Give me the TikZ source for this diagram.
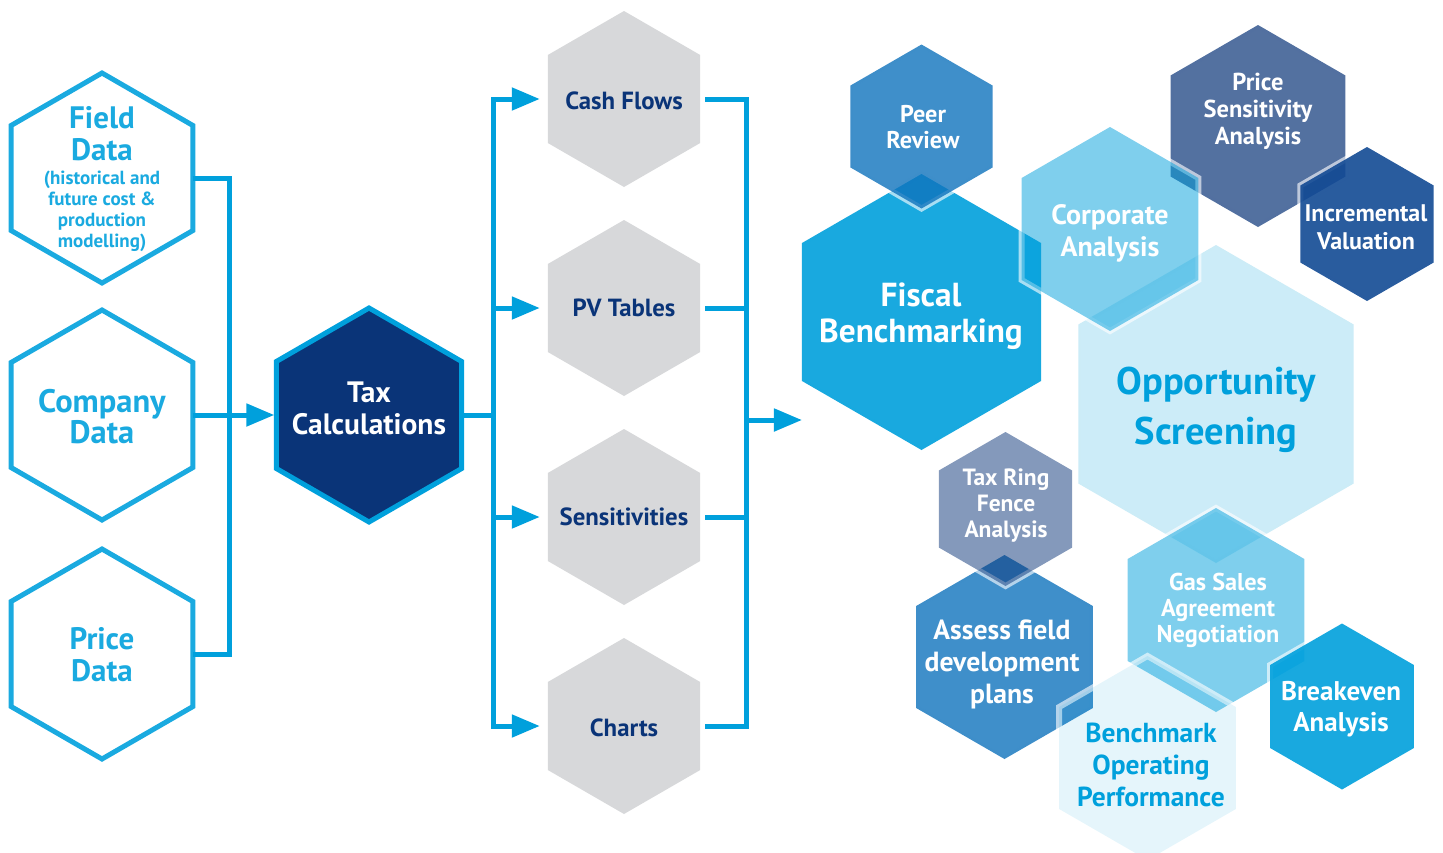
\documentclass[tikz,border=0pt]{standalone}
\usepackage{fontspec}
\setmainfont{PT Sans}
\usetikzlibrary{shapes.geometric,arrows.meta}

\definecolor{navy}{HTML}{0A3478}
\definecolor{cyanbase}{HTML}{00A0DC}
\definecolor{outl}{HTML}{1AAAE0}
\definecolor{hexgrey}{HTML}{D7D8DA}
\definecolor{midblue}{HTML}{0F73BD}
\definecolor{deepblue}{HTML}{124A94}

\newcommand{\fsz}[2]{\fontsize{#1}{#2}\selectfont}

\tikzset{
  hexa/.style={regular polygon, regular polygon sides=6, shape border rotate=30,
    inner sep=0pt, outer sep=0pt, minimum size=#1},
  inhex/.style={hexa=#1, draw=outl, line width=5pt, fill=white},
  graycell/.style={hexa=#1, fill=hexgrey},
  cell/.style={hexa=#1, preaction={draw=white, draw opacity=.62, line width=6pt}},
  txt/.style={align=center, font=\bfseries, text=white, inner sep=0pt},
  flow/.style={draw=cyanbase, line width=5pt},
  feed/.style={-{Triangle[length=28pt,width=22pt]}},
}

\begin{document}
\begin{tikzpicture}[x=1pt,y=-1pt]
\useasboundingbox (0,0) rectangle (1443,852);

% data inputs
\node[inhex=210] (fd) at (102,178) {};
\node[txt, text=outl, font=\bfseries\fsz{31}{32}] (fdt) at (102,134) {Field\\Data};
\node[txt, text=outl, font=\bfseries\fsz{19}{21}] (fds) at (102,211) {(historical and\\future cost \&\\production\\modelling)};
\node[inhex=210] (cd) at (102,415) {};
\node[txt, text=outl, font=\bfseries\fsz{32.5}{31}] (cdt) at (102,417) {Company\\Data};
\node[inhex=210] (pd) at (102,654) {};
\node[txt, text=outl, font=\bfseries\fsz{31}{32}] (pdt) at (102,655) {Price\\Data};

% engine
\node[hexa=214, draw=cyanbase, line width=5pt, fill=navy] (tax) at (369,415) {};
\node[txt, font=\bfseries\fsz{29.5}{32}] (taxt) at (369,408) {Tax\\Calculations};

% outputs
\node[graycell=176] (cf) at (624,99) {};
\node[txt, text=navy, font=\bfseries\fsz{24.8}{28}] (cft) at (624,101) {Cash Flows};
\node[graycell=176] (pv) at (624,308) {};
\node[txt, text=navy, font=\bfseries\fsz{24.8}{28}] (pvt) at (624,308) {PV Tables};
\node[graycell=176] (se) at (624,517) {};
\node[txt, text=navy, font=\bfseries\fsz{24.8}{28}] (set) at (624,517) {Sensitivities};
\node[graycell=176] (ch) at (624,726) {};
\node[txt, text=navy, font=\bfseries\fsz{24.8}{28}] (cht) at (624,728) {Charts};

% connectors
\draw[flow] (fd.east) -- ++(37,0) |- (pd.east);
\draw[flow, feed, shorten >=2pt] (cd.east) -- (tax.west);
\draw[flow] (tax.east) -- ++(32,0) coordinate (split);
\foreach \g in {cf,pv,se,ch}
  \draw[flow, feed, shorten >=8pt] (split) |- (\g.west);
\coordinate (merge) at (746,420);
\foreach \g in {cf,pv,se,ch}
  \draw[flow] ([xshift=5pt]\g.east) -| (merge);

% uses cluster
\node[cell=276, fill=cyanbase, fill opacity=.9] (fb) at (921.5,312) {};
\node[cell=202, fill=navy, fill opacity=.7] (ps) at (1258,126) {};
\node[cell=318, fill=cyanbase, fill opacity=.2] (os) at (1216,404) {};
\node[cell=204, fill=midblue, fill opacity=.8] (af) at (1004.5,657) {};
\node[cell=204, fill=cyanbase, fill opacity=.5] (gs) at (1216,610) {};
\node[cell=164, fill=midblue, fill opacity=.8] (pr) at (921.5,126.5) {};
\node[cell=204, fill=cyanbase, fill opacity=.5] (ca) at (1110,229) {};
\node[cell=154, fill=deepblue, fill opacity=.9] (iv) at (1367,224) {};
\node[cell=154, fill=navy, fill opacity=.5] (tr) at (1005.5,509) {};
\node[cell=204, fill=cyanbase, fill opacity=.1] (bo) at (1147.5,758) {};
\node[cell=166, fill=cyanbase, fill opacity=.9] (be) at (1342,706.5) {};

\draw[flow, feed] (merge) -- (merge -| fb.west);

\node[txt, font=\bfseries\fsz{33.3}{36}] (fbt) at (921,316) {Fiscal\\Benchmarking};
\node[txt, font=\bfseries\fsz{24.5}{27}] (pst) at (1258,111) {Price\\Sensitivity\\Analysis};
\node[txt, text=cyanbase, font=\bfseries\fsz{38.5}{50}] (ost) at (1216,410) {Opportunity\\Screening};
\node[txt, font=\bfseries\fsz{27.7}{32}] (aft) at (1002,664) {Assess field\\development\\plans};
\node[txt, font=\bfseries\fsz{24.3}{26}] (gst) at (1218,610) {Gas Sales\\Agreement\\Negotiation};
\node[txt, font=\bfseries\fsz{24.2}{26}] (prt) at (923,127) {Peer\\Review};
\node[txt, font=\bfseries\fsz{28}{32}] (cat) at (1110,233) {Corporate\\Analysis};
\node[txt, font=\bfseries\fsz{24}{28}] (ivt) at (1366,227) {Incremental\\Valuation};
\node[txt, font=\bfseries\fsz{23.5}{26}] (trt) at (1006,506) {Tax Ring\\Fence\\Analysis};
\node[txt, text=cyanbase, font=\bfseries\fsz{27.5}{32}] (bot) at (1151,765) {Benchmark\\Operating\\Performance};
\node[txt, font=\bfseries\fsz{27}{31}] (bet) at (1341,709) {Breakeven\\Analysis};
\end{tikzpicture}
\end{document}
